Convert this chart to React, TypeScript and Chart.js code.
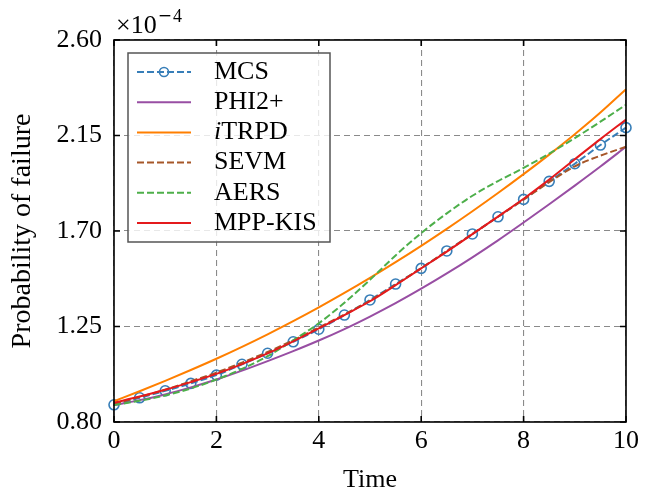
import { useEffect, useRef } from 'react';
import { Chart, registerables } from 'chart.js';
Chart.register(...registerables);

const times = [0, 0.5, 1, 1.5, 2, 2.5, 3, 3.5, 4, 4.5, 5, 5.5, 6, 6.5, 7, 7.5, 8, 8.5, 9, 9.5, 10];
const mcs = [0.881, 0.914, 0.947, 0.982, 1.021, 1.072, 1.124, 1.178, 1.237, 1.304, 1.375, 1.45, 1.524, 1.606, 1.686, 1.767, 1.849, 1.934, 2.017, 2.105, 2.187];
const phi2 = [0.880, 0.903, 0.930, 0.963, 1.000, 1.042, 1.087, 1.134, 1.184, 1.238, 1.297, 1.360, 1.428, 1.500, 1.576, 1.656, 1.740, 1.826, 1.914, 2.004, 2.097];
const itrpd = [0.898, 0.945, 0.994, 1.045, 1.098, 1.154, 1.213, 1.275, 1.340, 1.408, 1.479, 1.553, 1.630, 1.710, 1.793, 1.879, 1.968, 2.060, 2.156, 2.258, 2.368];
const sevm = [0.886, 0.918, 0.952, 0.992, 1.033, 1.080, 1.130, 1.185, 1.245, 1.307, 1.372, 1.447, 1.525, 1.605, 1.686, 1.767, 1.848, 1.930, 2.005, 2.055, 2.097];
const aers = [0.880, 0.900, 0.925, 0.958, 1.000, 1.050, 1.110, 1.185, 1.265, 1.362, 1.470, 1.585, 1.690, 1.783, 1.866, 1.935, 1.997, 2.065, 2.138, 2.215, 2.295];
const mppkis = [0.891, 0.920, 0.952, 0.988, 1.027, 1.073, 1.123, 1.180, 1.241, 1.304, 1.369, 1.445, 1.524, 1.603, 1.685, 1.768, 1.852, 1.942, 2.038, 2.133, 2.225];

const xTicks = [0, 2, 4, 6, 8, 10];
const yTicks = [0.80, 1.25, 1.70, 2.15, 2.60];
const xTitle = 'Time';
const yTitle = 'Probability of failure';

const FONT = '"Liberation Serif", "Times New Roman", serif';

type Entry = { label: string; italicPrefix?: string; color: string; dash: number[]; marker?: boolean };
const legendEntries: Entry[] = [
  { label: 'MCS', color: '#377eb8', dash: [7, 3], marker: true },
  { label: 'PHI2+', color: '#984ea3', dash: [] },
  { label: 'TRPD', italicPrefix: 'i', color: '#ff7f00', dash: [] },
  { label: 'SEVM', color: '#a65628', dash: [7, 3] },
  { label: 'AERS', color: '#4daf4a', dash: [7, 3] },
  { label: 'MPP-KIS', color: '#e41a1c', dash: [] },
];
const seriesValues = [mcs, phi2, itrpd, sevm, aers, mppkis];

export default function App() {
  const ref = useRef<HTMLCanvasElement | null>(null);
  useEffect(() => {
    if (!ref.current) return;
    const framePlugin = {
      id: 'frameAndLegend',
      afterDraw(chart: any) {
        const ctx = chart.ctx as CanvasRenderingContext2D;
        const { left, right, top, bottom } = chart.chartArea;
        const xs = chart.scales.x;
        const ys = chart.scales.y;
        ctx.save();
        // frame
        ctx.strokeStyle = '#000';
        ctx.lineWidth = 1.6;
        ctx.setLineDash([]);
        ctx.strokeRect(left, top, right - left, bottom - top);
        // inward ticks
        const tl = 6;
        ctx.beginPath();
        xTicks.forEach((v) => {
          const px = xs.getPixelForValue(v);
          ctx.moveTo(px, bottom); ctx.lineTo(px, bottom - tl);
          ctx.moveTo(px, top); ctx.lineTo(px, top + tl);
        });
        yTicks.forEach((v) => {
          const py = ys.getPixelForValue(v);
          ctx.moveTo(left, py); ctx.lineTo(left + tl, py);
          ctx.moveTo(right, py); ctx.lineTo(right - tl, py);
        });
        ctx.stroke();

        // offset text ×10^-4
        ctx.fillStyle = '#000';
        ctx.textBaseline = 'alphabetic';
        ctx.textAlign = 'left';
        ctx.font = `normal 26px ${FONT}`;
        ctx.fillText('\u00d710', 116, 33);
        const w = ctx.measureText('\u00d710').width;
        ctx.font = `normal 17px "DejaVu Sans", sans-serif`;
        ctx.fillText('\u2212', 116 + w + 1, 21);
        const wm = ctx.measureText('\u2212').width;
        ctx.font = `normal 18px ${FONT}`;
        ctx.fillText('4', 116 + w + 1 + wm + 1, 22);

        // legend
        const bx = 128, by = 53, bw = 202, bh = 189;
        ctx.fillStyle = 'rgba(255,255,255,0.8)';
        ctx.fillRect(bx, by, bw, bh);
        ctx.strokeStyle = '#555';
        ctx.lineWidth = 1.5;
        ctx.strokeRect(bx, by, bw, bh);
        const rowH = 30.2;
        legendEntries.forEach((e, i) => {
          const cy = 72 + i * rowH;
          ctx.strokeStyle = e.color;
          ctx.lineWidth = 2;
          ctx.setLineDash(e.dash);
          ctx.beginPath();
          ctx.moveTo(137, cy); ctx.lineTo(191, cy);
          ctx.stroke();
          ctx.setLineDash([]);
          if (e.marker) {
            ctx.lineWidth = 1.6;
            ctx.beginPath();
            ctx.arc(164, cy, 4.5, 0, Math.PI * 2);
            ctx.stroke();
          }
          ctx.fillStyle = '#000';
          ctx.textBaseline = 'middle';
          let tx = 214;
          if (e.italicPrefix) {
            ctx.font = `italic 26px ${FONT}`;
            ctx.fillText(e.italicPrefix, tx, cy);
            tx += ctx.measureText(e.italicPrefix).width;
          }
          ctx.font = `normal 26px ${FONT}`;
          ctx.fillText(e.label, tx, cy);
        });
        ctx.restore();
      },
    };

    const datasets = legendEntries.map((e, i) => ({
      label: (e.italicPrefix || '') + e.label,
      data: times.map((t, j) => ({ x: t, y: seriesValues[i][j] })),
      borderColor: e.color,
      backgroundColor: 'rgba(0,0,0,0)',
      borderWidth: 2,
      borderDash: e.dash,
      pointRadius: e.marker ? 5 : 0,
      pointBorderWidth: 1.6,
      pointBorderColor: e.color,
      pointBackgroundColor: 'rgba(0,0,0,0)',
      cubicInterpolationMode: 'monotone' as const,
      fill: false,
      clip: false as any,
      order: legendEntries.length - 1 - i,
    }));

    const chart = new Chart(ref.current, {
      type: 'line',
      data: { datasets },
      plugins: [framePlugin],
      options: {
        responsive: false,
        animation: false,
        events: [],
        layout: { padding: { left: 0, right: 22, top: 40, bottom: 0 } },
        plugins: { legend: { display: false }, tooltip: { enabled: false } },
        scales: {
          x: {
            type: 'linear',
            min: 0,
            max: 10,
            afterFit: (s: any) => { s.height = 71; },
            afterBuildTicks: (s: any) => { s.ticks = xTicks.map((v) => ({ value: v })); },
            ticks: { color: '#000', font: { family: FONT, size: 26 }, padding: 4, maxRotation: 0, callback: (v: any) => String(v) },
            grid: { color: '#8a8a8a', lineWidth: 1.1, drawTicks: false },
            border: { display: false, dash: [6, 4] },
            title: { display: true, text: xTitle, color: '#000', font: { family: FONT, size: 26, lineHeight: 1 }, padding: { top: 0, bottom: 0 } },
          },
          y: {
            type: 'linear',
            min: 0.8,
            max: 2.6,
            afterFit: (s: any) => { s.width = 114; },
            afterBuildTicks: (s: any) => { s.ticks = yTicks.map((v) => ({ value: v })); },
            ticks: { color: '#000', font: { family: FONT, size: 26 }, padding: 12, callback: (v: any) => Number(v).toFixed(2) },
            grid: { color: '#8a8a8a', lineWidth: 1.1, drawTicks: false },
            border: { display: false, dash: [6, 4] },
            title: { display: true, text: yTitle, color: '#000', font: { family: FONT, size: 28, lineHeight: 1 }, padding: { top: 9, bottom: 0 } },
          },
        },
      },
    });
    return () => chart.destroy();
  }, []);
  return (
    <div style={{ position: 'fixed', left: 0, top: 0, width: 648, height: 493, background: '#fff' }}>
      <canvas ref={ref} width={648} height={493} style={{ width: 648, height: 493 }} />
    </div>
  );
}
